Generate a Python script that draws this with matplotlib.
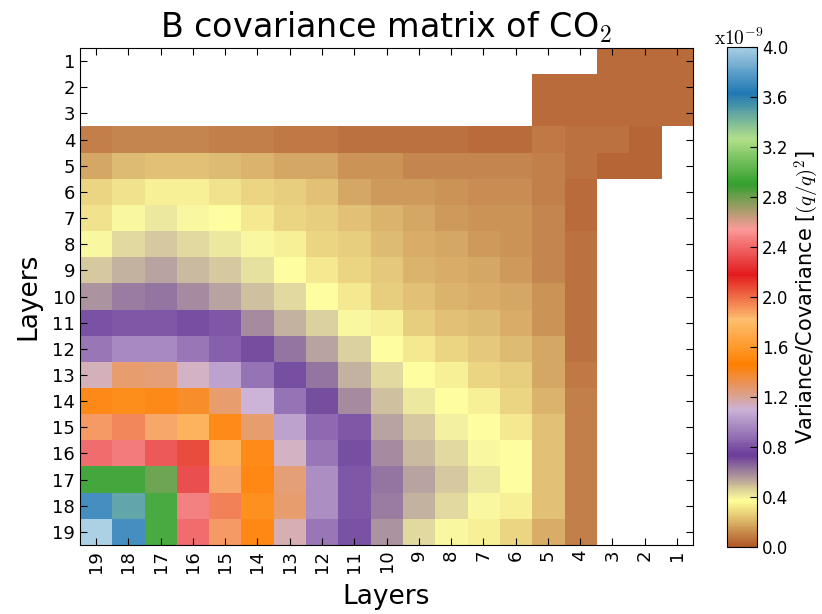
import numpy as np
import matplotlib
matplotlib.use("Agg")
import matplotlib.pyplot as plt
from matplotlib.colors import LinearSegmentedColormap

N = np.nan

# Column labels (left to right) and row labels (top to bottom)
x_layers = [19, 18, 17, 16, 15, 14, 13, 12, 11, 10, 9, 8, 7, 6, 5, 4, 3, 2, 1]
y_layers = list(range(1, 20))

# Values in units of 1e-9 (q/q)^2, each row listed for columns 19 -> 1
layer_01 = [N]*16 + [0.02, 0.02, 0.02]
layer_02 = [N]*14 + [0.02, 0.02, 0.02, 0.02, 0.02]
layer_03 = [N]*14 + [0.02, 0.03, 0.03, 0.02, 0.02]
layer_04 = [0.065, 0.08, 0.08, 0.08, 0.07, 0.07, 0.055, 0.055, 0.04, 0.04, 0.04, 0.04, 0.025, 0.025, 0.05, 0.045, 0.035, 0.015, N]
layer_05 = [0.17, 0.21, 0.23, 0.23, 0.21, 0.20, 0.17, 0.16, 0.12, 0.11, 0.09, 0.08, 0.08, 0.08, 0.065, 0.035, 0.015, 0.015, N]
layer_06 = [0.27, 0.31, 0.33, 0.33, 0.30, 0.27, 0.25, 0.22, 0.17, 0.14, 0.13, 0.11, 0.10, 0.10, 0.075, 0.02, N, N, N]
layer_07 = [0.31, 0.39, 0.42, 0.39, 0.364, 0.32, 0.27, 0.25, 0.22, 0.20, 0.16, 0.14, 0.12, 0.11, 0.08, 0.02, N, N, N]
layer_08 = [0.38, 0.44, 0.47, 0.44, 0.41, 0.38, 0.33, 0.28, 0.25, 0.21, 0.18, 0.16, 0.13, 0.12, 0.08, 0.035, N, N, N]
layer_09 = [0.47, 0.52, 0.55, 0.51, 0.47, 0.43, 0.364, 0.32, 0.27, 0.24, 0.20, 0.18, 0.16, 0.14, 0.09, 0.035, N, N, N]
layer_10 = [0.58, 0.63, 0.65, 0.60, 0.55, 0.49, 0.44, 0.37, 0.32, 0.26, 0.23, 0.20, 0.18, 0.16, 0.12, 0.035, N, N, N]
layer_11 = [0.75, 0.77, 0.77, 0.74, 0.78, 0.60, 0.52, 0.46, 0.39, 0.33, 0.26, 0.23, 0.21, 0.18, 0.12, 0.035, N, N, N]
layer_12 = [0.88, 0.95, 0.95, 0.88, 0.80, 0.73, 0.65, 0.55, 0.46, 0.37, 0.32, 0.28, 0.24, 0.21, 0.16, 0.045, N, N, N]
layer_13 = [1.15, 1.29, 1.27, 1.13, 1.02, 0.86, 0.74, 0.65, 0.52, 0.44, 0.364, 0.33, 0.28, 0.25, 0.17, 0.06, N, N, N]
layer_14 = [1.44, 1.49, 1.45, 1.42, 1.29, 1.09, 0.86, 0.73, 0.60, 0.49, 0.42, 0.37, 0.33, 0.28, 0.20, 0.065, N, N, N]
layer_15 = [1.91, 1.96, 1.89, 1.73, 1.47, 1.29, 1.02, 0.83, 0.78, 0.55, 0.47, 0.40, 0.364, 0.32, 0.22, 0.065, N, N, N]
layer_16 = [2.39, 2.43, 2.32, 2.10, 1.73, 1.48, 1.14, 0.88, 0.74, 0.60, 0.51, 0.44, 0.39, 0.36, 0.23, 0.075, N, N, N]
layer_17 = [2.92, 2.92, 2.82, 2.29, 1.88, 1.46, 1.27, 0.96, 0.77, 0.65, 0.55, 0.47, 0.41, 0.36, 0.23, 0.075, N, N, N]
layer_18 = [3.70, 3.49, 2.93, 2.44, 1.97, 1.50, 1.29, 0.96, 0.77, 0.63, 0.52, 0.44, 0.38, 0.34, 0.23, 0.075, N, N, N]
layer_19 = [4.00, 3.70, 2.93, 2.39, 1.91, 1.46, 1.17, 0.88, 0.76, 0.58, 0.45, 0.39, 0.34, 0.28, 0.18, 0.065, N, N, N]

cbar_ticks = [0.0, 0.4, 0.8, 1.2, 1.6, 2.0, 2.4, 2.8, 3.2, 3.6, 4.0]

rows = [layer_01, layer_02, layer_03, layer_04, layer_05, layer_06, layer_07,
        layer_08, layer_09, layer_10, layer_11, layer_12, layer_13, layer_14,
        layer_15, layer_16, layer_17, layer_18, layer_19]
data = np.ma.masked_invalid(np.array(rows, dtype=float))

paired = ['#a6cee3', '#1f78b4', '#b2df8a', '#33a02c', '#fb9a99', '#e31a1c',
          '#fdbf6f', '#ff7f00', '#cab2d6', '#6a3d9a', '#ffff99', '#b15928']
cmap = LinearSegmentedColormap.from_list('Paired_r_smooth', paired[::-1], N=256)
cmap.set_bad('white')

plt.rcParams['mathtext.fontset'] = 'cm'
plt.rcParams['xtick.direction'] = 'in'
plt.rcParams['ytick.direction'] = 'in'
plt.rcParams['xtick.top'] = True
plt.rcParams['ytick.right'] = True
plt.rcParams['xtick.major.size'] = 5
plt.rcParams['ytick.major.size'] = 5

fig = plt.figure(figsize=(8.22, 6.14), dpi=100)
ax = fig.add_axes([80/822, 1-545/614, (693-80)/822, (545-48)/614])
im = ax.imshow(data, cmap=cmap, vmin=0, vmax=4, interpolation='nearest', alpha=0.93,
               aspect='auto', extent=(-0.5, len(x_layers)-0.5, len(y_layers)-0.5, -0.5))
ax.set_xticks(range(len(x_layers)))
ax.set_xticklabels([str(v) for v in x_layers], rotation=90, fontsize=13)
ax.set_yticks(range(len(y_layers)))
ax.set_yticklabels([str(v) for v in y_layers], fontsize=13)
ax.set_xlabel('Layers', fontsize=19, labelpad=8)
ax.set_ylabel('Layers', fontsize=19, labelpad=8)
ax.set_title('B covariance matrix of CO$_2$', fontsize=24, pad=8)

cax = fig.add_axes([727/822, 1-547/614, 30/822, (547-47)/614])
cb = fig.colorbar(im, cax=cax, ticks=cbar_ticks)
cb.solids.set_alpha(1.0)
cb.ax.set_yticklabels(['%.1f' % t for t in cbar_ticks], fontsize=12)
cb.ax.tick_params(direction='in', length=5)
cb.set_label('Variance/Covariance [$(q/q)^2$]', fontsize=15, labelpad=3)
fig.text(714/822, 1-38/614, r'$\mathrm{x}10^{\mathsf{-9}}$', fontsize=14, ha='left', va='center')

fig.savefig('out.png', dpi=100)
